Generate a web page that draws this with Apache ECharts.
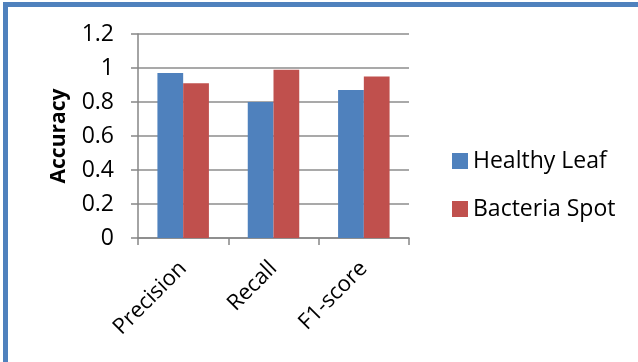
<!DOCTYPE html>
<html>
<head>
<meta charset="utf-8">
<script src="https://cdn.jsdelivr.net/npm/echarts@6/dist/echarts.min.js"></script>
<style>
  html, body { margin: 0; padding: 0; background: #fff; }
  #chart { width: 638px; height: 362px; }
</style>
</head>
<body>
<div id="chart"></div>
<script>
// Metric names along the x axis
const categories = ['Precision', 'Recall', 'F1-score'];
// Scores per class
const healthyLeaf = [0.97, 0.80, 0.87];
const bacteriaSpot = [0.91, 0.99, 0.95];
// Y axis range
const yMin = 0;
const yMax = 1.2;
const yStep = 0.2;

const FONT = 'Open Sans';
const chart = echarts.init(document.getElementById('chart'), null, { renderer: 'canvas' });

chart.setOption({
  backgroundColor: '#ffffff',
  animation: false,
  graphic: [{
    type: 'rect',
    shape: { x: 5.5, y: 4.5, width: 700, height: 400 },
    style: { fill: 'none', stroke: '#4f81bd', lineWidth: 5 },
    z: 100
  }],
  grid: { left: 138, right: 229, top: 34, bottom: 124, containLabel: false },
  legend: {
    orient: 'vertical',
    left: 452,
    top: 149,
    padding: 0,
    itemWidth: 16,
    itemHeight: 16,
    itemGap: 24,
    icon: 'rect',
    textStyle: { fontFamily: FONT, fontSize: 23, lineHeight: 24, color: '#000', padding: [0, 0, 0, 0] },
    data: ['Healthy Leaf', 'Bacteria Spot']
  },
  xAxis: {
    type: 'category',
    data: categories,
    axisLine: { lineStyle: { color: '#868686', width: 1.5 } },
    axisTick: { show: true, length: 7, alignWithLabel: false, lineStyle: { color: '#868686', width: 1.5 } },
    axisLabel: { rotate: 45, fontFamily: FONT, fontSize: 22, color: '#000', margin: 27 }
  },
  yAxis: {
    type: 'value',
    min: yMin,
    max: yMax,
    interval: yStep,
    name: 'Accuracy',
    nameLocation: 'middle',
    nameGap: 68,
    nameTextStyle: { fontFamily: FONT, fontSize: 21, fontWeight: 'bold', color: '#000' },
    axisLine: { show: true, lineStyle: { color: '#868686', width: 1.5 } },
    axisTick: { show: true, length: 7, lineStyle: { color: '#868686', width: 1.5 } },
    splitLine: { lineStyle: { color: '#8c8c8c', width: 1.5 } },
    axisLabel: {
      fontFamily: FONT, fontSize: 23, color: '#000', margin: 24,
      formatter: v => String(Math.round(v * 10) / 10)
    }
  },
  series: [
    {
      name: 'Healthy Leaf',
      type: 'bar',
      data: healthyLeaf,
      barGap: '0%',
      barCategoryGap: '43%',
      itemStyle: { color: '#4f81bd' }
    },
    {
      name: 'Bacteria Spot',
      type: 'bar',
      data: bacteriaSpot,
      barGap: '0%',
      barCategoryGap: '43%',
      itemStyle: { color: '#c0504d' }
    }
  ]
});
</script>
</body>
</html>
